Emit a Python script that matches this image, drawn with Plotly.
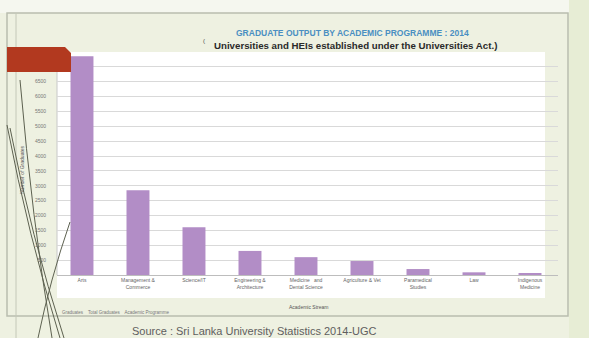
import plotly.graph_objects as go

W, H = 589, 338
L, R, T, B = 57, 31, 52, 63

categories = ["Arts", "Management &<br>Commerce", "Science/IT", "Engineering &<br>Architecture",
              "Medicine   and<br>Dental Science", "Agriculture & Vet", "Paramedical<br>Studies",
              "Law", "Indigenous<br>Medicine"]
graduates = [7360, 2850, 1610, 810, 600, 470, 200, 90, 65]
y_ticks = list(range(500, 7501, 500))

def px(x):
    return (x - L) / (W - L - R)

def py(y):
    return (H - B - y) / (H - T - B)

fig = go.Figure(go.Bar(x=list(range(len(categories))), y=graduates,
                       marker=dict(color="#b28dc6", line=dict(width=0)), width=0.41))

shapes = []
# slide areas
shapes.append(dict(type="rect", xref="paper", yref="paper", x0=px(0), x1=px(W), y0=py(0), y1=py(13),
                   fillcolor="#f5f7ef", line=dict(width=0), layer="below"))
shapes.append(dict(type="rect", xref="paper", yref="paper", x0=px(569), x1=px(W), y0=py(0), y1=py(H),
                   fillcolor="#e7edd5", line=dict(width=0), layer="below"))
shapes.append(dict(type="rect", xref="paper", yref="paper", x0=px(57), x1=px(545), y0=py(52), y1=py(298),
                   fillcolor="#ffffff", line=dict(width=0), layer="below"))
# frame
shapes.append(dict(type="rect", xref="paper", yref="paper", x0=px(7), x1=px(568), y0=py(13), y1=py(316),
                   line=dict(color="#b9bdaf", width=1.5), layer="below"))
shapes.append(dict(type="line", xref="paper", yref="paper", x0=px(16), x1=px(16), y0=py(13), y1=py(338),
                   line=dict(color="#c4c8b8", width=1), layer="below"))
shapes.append(dict(type="line", xref="paper", yref="paper", x0=px(57), x1=px(57), y0=py(52), y1=py(275),
                   line=dict(color="#c8c8c8", width=1), layer="below"))

def path(pts):
    s = "M %f,%f" % (px(pts[0][0]), py(pts[0][1]))
    s += " Q %f,%f %f,%f" % (px(pts[1][0]), py(pts[1][1]), px(pts[2][0]), py(pts[2][1]))
    return s

for pts in ([(7, 125), (28, 235), (60, 338)], [(10, 128), (31, 236), (64, 338)],
            [(20, 80), (32, 220), (52, 338)], [(70, 222), (50, 280), (38, 338)]):
    shapes.append(dict(type="path", xref="paper", yref="paper", path=path(pts),
                       line=dict(color="#5d6150", width=1), layer="above"))

# red tab
tab = "M %f,%f L %f,%f L %f,%f L %f,%f L %f,%f Z" % (
    px(7), py(47), px(65), py(47), px(71), py(53), px(71), py(72), px(7), py(72))
shapes.append(dict(type="path", xref="paper", yref="paper", path=tab,
                   fillcolor="#b2391f", line=dict(width=0), layer="above"))

annotations = [
    dict(text="<b>GRADUATE OUTPUT BY ACADEMIC PROGRAMME : 2014</b>", x=px(352), y=py(33),
         font=dict(family="Liberation Sans", size=8.5, color="#4a8fc2")),
    dict(text="<b>Universities and HEIs established under the Universities Act.)</b>", x=px(355), y=py(46),
         font=dict(family="Liberation Sans", size=9.7, color="#2a2a2a")),
    dict(text="(", x=px(204), y=py(41), font=dict(family="Liberation Sans", size=6, color="#444")),
    dict(text="Source : Sri Lanka University Statistics 2014-UGC", x=px(254), y=py(331),
         font=dict(family="Liberation Sans", size=11, color="#5e5e5e")),
    dict(text="Academic Stream", x=px(308), y=py(307),
         font=dict(family="Liberation Sans", size=5, color="#555555")),
    dict(text="Number of Graduates", x=px(22), y=py(170), textangle=-90,
         font=dict(family="Liberation Sans", size=5, color="#555555")),
    dict(text="Graduates    Total Graduates    Academic Programme", x=px(60), y=py(312), xanchor="left",
         font=dict(family="Liberation Sans", size=4.5, color="#777777")),
]
for a in annotations:
    a.update(xref="paper", yref="paper", showarrow=False)
    a.setdefault("xanchor", "center")
    a["yanchor"] = "middle"

fig.update_layout(
    width=W, height=H, margin=dict(l=L, r=R, t=T, b=B),
    paper_bgcolor="#eef1e1", plot_bgcolor="rgba(0,0,0,0)",
    showlegend=False, shapes=shapes, annotations=annotations,
    xaxis=dict(range=[-0.446, 8.5], tickmode="array", tickvals=list(range(len(categories))),
               ticktext=categories, tickfont=dict(family="Liberation Sans", size=5, color="#666666"),
               showgrid=False, showline=True, linecolor="#bdbdbd", linewidth=1, ticks="", zeroline=False),
    yaxis=dict(range=[0, 7500], tickvals=y_ticks, ticktext=[str(v) for v in y_ticks],
               tickfont=dict(family="Liberation Sans", size=5, color="#777777"),
               showgrid=True, gridcolor="#d9d9d9", gridwidth=1, zeroline=False, ticks="",
               ticklabelstandoff=10),
    bargap=0.59,
)
fig.write_html("out.html")
